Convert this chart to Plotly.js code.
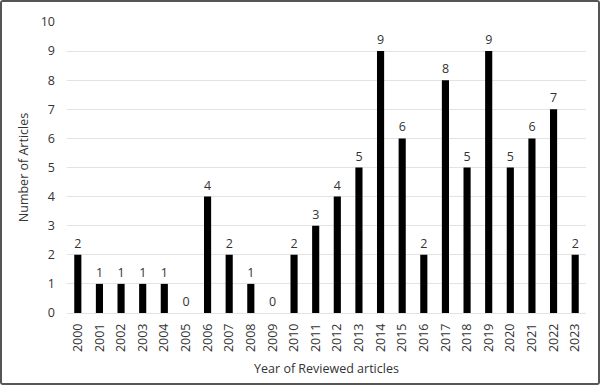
<!DOCTYPE html>
<html><head><meta charset="utf-8">
<script src="https://cdn.plot.ly/plotly-3.0.1.min.js"></script>
<style>html,body{margin:0;padding:0;background:#fff}#c{width:600px;height:385px;box-sizing:border-box;border:2px solid #555;border-radius:3px;overflow:hidden}</style>
</head><body><div id="c"></div>
<script>
const years = ['2000','2001','2002','2003','2004','2005','2006','2007','2008','2009','2010','2011','2012','2013','2014','2015','2016','2017','2018','2019','2020','2021','2022','2023'];
const articles = [2,1,1,1,1,0,4,2,1,0,2,3,4,5,9,6,2,8,5,9,5,6,7,2];
const yTicks = [0,1,2,3,4,5,6,7,8,9,10];
const font = {family:'"Open Sans", sans-serif', size:12.5, color:'#333'};
Plotly.newPlot('c', [{
  type:'bar', x:years, y:articles,
  marker:{color:'#000'},
  text:articles.map(String), textposition:'outside', cliponaxis:false,
  textfont:{family:font.family,size:12.5,color:'#333'},
  hoverinfo:'none'
}], {
  width:596, height:381,
  margin:{l:65,r:12,t:20,b:70},
  bargap:0.67,
  paper_bgcolor:'#fff', plot_bgcolor:'#fff',
  font:font, showlegend:false,
  xaxis:{type:'category', tickangle:-90, showgrid:false, zeroline:false, showline:false, ticks:'', ticklabelstandoff:7,
    title:{text:'Year of Reviewed articles', font:font, standoff:13}},
  yaxis:{range:[0,10], tickvals:yTicks, showgrid:true, gridcolor:'#e3e3e3', zeroline:true, zerolinecolor:'#e3e3e3', zerolinewidth:1,
    showline:false, ticks:'', ticklen:0, ticklabelstandoff:11,
    title:{text:'Number of Articles', font:font, standoff:9}}
}, {displayModeBar:false, staticPlot:true});
</script></body></html>
